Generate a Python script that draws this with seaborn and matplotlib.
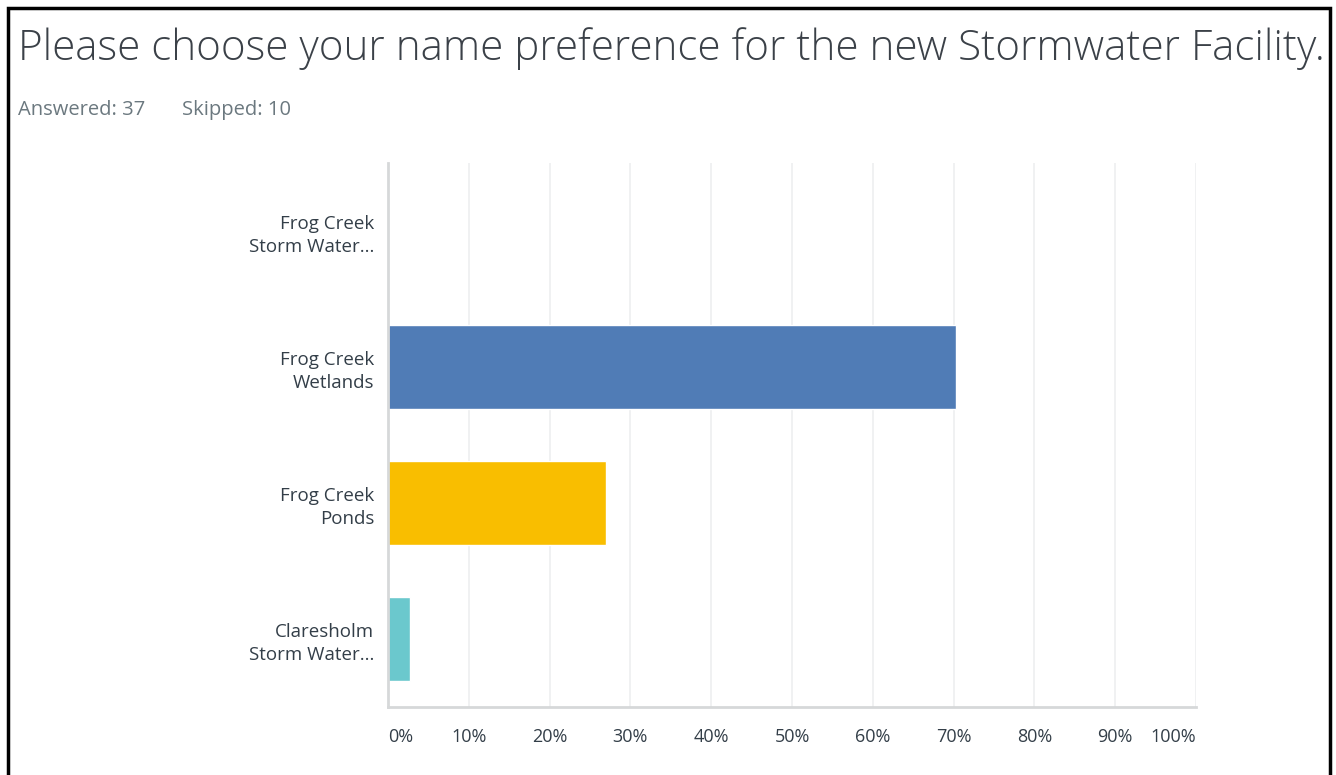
import matplotlib
matplotlib.use("Agg")
import matplotlib.pyplot as plt
import seaborn as sns
import pandas as pd
from matplotlib.patches import Rectangle

categories = ["Frog Creek\nStorm Water...", "Frog Creek\nWetlands", "Frog Creek\nPonds", "Claresholm\nStorm Water..."]
percentages = [0.0, 70.27, 27.03, 2.70]
bar_colors = ["#507cb6", "#507cb6", "#f9be00", "#6bc8cd"]
tick_values = [0, 10, 20, 30, 40, 50, 60, 70, 80, 90, 100]
tick_labels = ["0%", "10%", "20%", "30%", "40%", "50%", "60%", "70%", "80%", "90%", "100%"]
title = "Please choose your name preference for the new Stormwater Facility."
answered = "Answered: 37"
skipped = "Skipped: 10"

sns.set_theme(style="white")
plt.rcParams['font.family'] = ['Open Sans', 'DejaVu Sans']

df = pd.DataFrame({"cat": categories, "pct": percentages})

fig = plt.figure(figsize=(13.36, 7.75), dpi=100)
ax = fig.add_axes([388/1336, 68/775, 808/1336, 544/775])

sns.barplot(data=df, y="cat", x="pct", hue="cat", palette=bar_colors,
            orient="h", width=0.62, legend=False, ax=ax, saturation=1)

ax.set_xlim(0, 100)
ax.set_ylim(3.5, -0.5)
ax.set_xlabel("")
ax.set_ylabel("")
ax.set_xticks(tick_values)
ax.set_xticklabels([])
ax.tick_params(axis="x", length=0)
ax.tick_params(axis="y", length=0, pad=10, labelsize=13.5, labelcolor="#333e48")
for lbl in ax.get_yticklabels():
    lbl.set_horizontalalignment("right")
    lbl.set_multialignment("right")
    lbl.set_linespacing(1.35)

ax.xaxis.grid(True, color="#eff0f1", linewidth=1.3)
ax.yaxis.grid(False)
ax.set_axisbelow(True)
for s in ["top", "right"]:
    ax.spines[s].set_visible(False)
for s in ["left", "bottom"]:
    ax.spines[s].set_color("#d6d8d9")
    ax.spines[s].set_linewidth(2)

# x tick labels
for v, t in zip(tick_values, tick_labels):
    ha = "center"
    if v == 0:
        ha = "left"
    elif v == 100:
        ha = "right"
    ax.text(v, -(737 - 707) / 544, t, transform=ax.get_xaxis_transform(), ha=ha, va="center",
            fontsize=13, color="#333e48")

fig.text(18/1336, 1 - 49/775, title, fontsize=30.3, color="#3b4148",
         fontweight="light", ha="left", va="center")
fig.text(18/1336, 1 - 110/775, answered, fontsize=14.5, color="#6b787f", ha="left", va="center")
fig.text(182/1336, 1 - 110/775, skipped, fontsize=14.5, color="#6b787f", ha="left", va="center")

# outer frame
fig.patches.append(Rectangle((8/1336, -0.01), 1322/1336, 1 - 8/775 + 0.01, transform=fig.transFigure,
                             fill=False, edgecolor="black", linewidth=2.5))

fig.savefig("out.png", dpi=100)
